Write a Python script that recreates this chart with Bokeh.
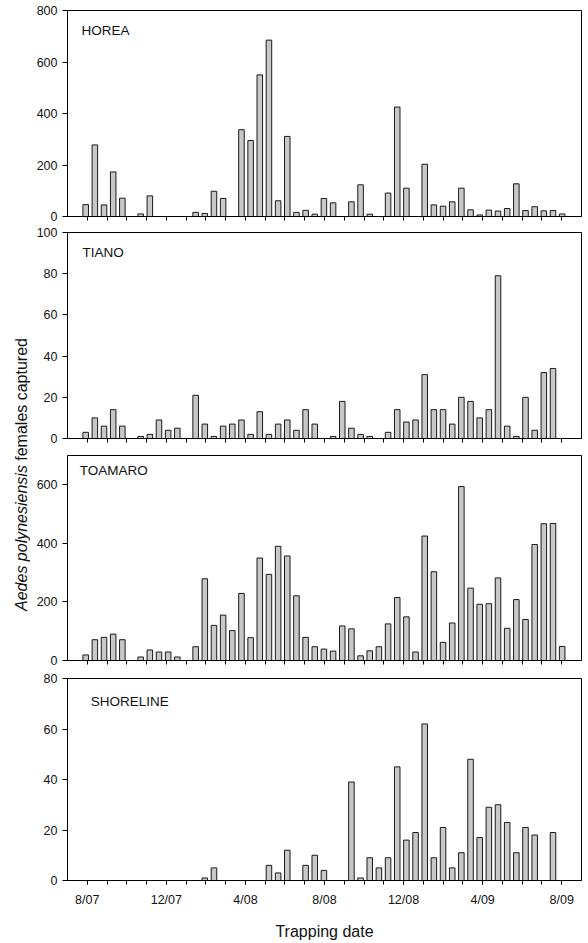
import math
from bokeh.plotting import figure
from bokeh.models import Range1d, FixedTicker, Label, Arrow
from bokeh.layouts import row, column
from bokeh.embed import file_html
from bokeh.resources import INLINE
from bokeh.core.properties import value

FONT = "Liberation Sans"

# ---- data (biweekly trap collections, slot 0 = late July 2007) ----
sample_index = list(range(53))

horea = [46, 278, 45, 173, 71, 0, 10, 80, 0, 0, 0, 0, 16, 12, 98, 70, 0, 337, 295, 550,
         685, 61, 311, 16, 24, 9, 70, 53, 0, 57, 123, 9, 0, 91, 425, 110, 0, 203, 45, 40,
         57, 110, 26, 6, 25, 21, 31, 127, 23, 38, 22, 23, 10]
tiano = [3, 10, 6, 14, 6, 0, 1, 2, 9, 4, 5, 0, 21, 7, 1, 6, 7, 9, 2, 13,
         2, 7, 9, 4, 14, 7, 0, 1, 18, 5, 2, 1, 0, 3, 14, 8, 9, 31, 14, 14,
         7, 20, 18, 10, 14, 79, 6, 1, 20, 4, 32, 34, 0]
toamaro = [19, 71, 79, 90, 71, 0, 12, 36, 29, 29, 12, 0, 47, 279, 120, 155, 102, 229, 78, 350,
           294, 390, 357, 221, 79, 47, 39, 32, 118, 108, 16, 33, 47, 125, 215, 149, 29, 425, 303, 62,
           128, 594, 247, 192, 194, 282, 110, 208, 140, 396, 467, 468, 48]
shoreline = [0, 0, 0, 0, 0, 0, 0, 0, 0, 0, 0, 0, 0, 1, 5, 0, 0, 0, 0, 0,
             6, 3, 12, 0, 6, 10, 4, 0, 0, 39, 1, 9, 5, 9, 45, 16, 19, 62, 9, 21,
             5, 11, 48, 17, 29, 30, 23, 11, 21, 18, 0, 19, 0]

site_names = ["HOREA", "TIANO", "TOAMARO", "SHORELINE"]
y_max = [800, 100, 700, 80]
y_ticks = [[0, 200, 400, 600, 800], [0, 20, 40, 60, 80, 100],
           [0, 200, 400, 600], [0, 20, 40, 60, 80]]

x_tick_months = [1, 5, 9, 13, 17, 21, 25]
x_tick_labels = ["8/07", "12/07", "4/08", "8/08", "12/08", "4/09", "8/09"]
long_tick_months = [0, 4, 8, 12, 16, 20, 24]
minor_tick_months = list(range(1, 26))

first_sample_month = 0.92
sample_step_month = 0.4635

YLAB_W = 30
FIG_W = 552
heights = [223, 223, 223, 273]
border_top = [10, 9, 9, 9]
border_bottom = [7, 8, 9, 59]
name_dx_px = [14, 15, 12.3, 23.3]
name_dy_px = [12.5, 12.5, 7, 15.5]
MONTH_PX = 514 / 26.0


def make_panel(k, counts):
    h = heights[k]
    frame_h = h - border_top[k] - border_bottom[k]
    p = figure(width=FIG_W, height=h, x_range=Range1d(0, 26), y_range=Range1d(0, y_max[k]),
               output_backend="svg", toolbar_location=None,
               min_border_left=37, min_border_right=1,
               min_border_top=border_top[k], min_border_bottom=border_bottom[k])
    p.xgrid.visible = False
    p.ygrid.visible = False
    p.outline_line_color = "black"
    p.outline_line_width = 1
    p.background_fill_color = "white"
    p.border_fill_color = "white"

    xs = [first_sample_month + sample_step_month * i for i, c in zip(sample_index, counts) if c > 0]
    tops = [c for c in counts if c > 0]
    p.vbar(x=xs, top=tops, bottom=0, width=0.28, fill_color="#c8c8c8",
           line_color="#1a1a1a", line_width=1)

    # y axis
    ya = p.yaxis[0]
    ya.ticker = FixedTicker(ticks=y_ticks[k])
    ya.major_tick_out = 5
    ya.major_tick_in = 0
    ya.minor_tick_out = 0
    ya.minor_tick_in = 0
    ya.major_label_standoff = 5
    ya.major_label_text_font = FONT
    ya.major_label_text_font_size = "12.5px"
    ya.major_label_text_color = "#111111"
    ya.axis_line_color = "black"
    ya.major_tick_line_color = "black"

    # x axis: monthly ticks, labels only on the bottom panel
    xa = p.xaxis[0]
    if k == 3:
        xa.ticker = FixedTicker(ticks=x_tick_months, minor_ticks=minor_tick_months)
        xa.major_label_overrides = {m: l for m, l in zip(x_tick_months, x_tick_labels)}
        xa.major_label_standoff = 8
        xa.major_label_text_font = FONT
        xa.major_label_text_font_size = "12.5px"
        xa.major_label_text_color = "#111111"
        xa.axis_label = "Trapping date"
        xa.axis_label_standoff = 13
        xa.axis_label_text_font = FONT
        xa.axis_label_text_font_size = "16px"
        xa.axis_label_text_font_style = "normal"
        xa.axis_label_text_color = "#111111"
    else:
        xa.ticker = FixedTicker(ticks=[], minor_ticks=minor_tick_months)
    xa.major_tick_out = 4
    xa.major_tick_in = 0
    xa.minor_tick_out = 4
    xa.minor_tick_in = 0
    xa.axis_line_color = "black"
    xa.major_tick_line_color = "black"
    xa.minor_tick_line_color = "black"

    # longer ticks every 4 months
    ext = 6 * y_max[k] / frame_h
    for m in long_tick_months:
        p.add_layout(Arrow(start=None, end=None, x_start=m, y_start=0, x_end=m, y_end=-ext,
                           line_color="black", line_width=1))

    lab = Label(x=name_dx_px[k] / MONTH_PX,
                y=y_max[k] * (1 - name_dy_px[k] / frame_h),
                text=site_names[k], text_baseline="top", text_align="left",
                text_font=FONT, text_font_size="13.5px", text_color="#111111")
    p.add_layout(lab)
    return p


panels = [make_panel(k, c) for k, c in enumerate([horea, tiano, toamaro, shoreline])]

# y-axis title in a narrow strip figure (mixed italic / normal)
total_h = sum(heights)
yfig = figure(width=YLAB_W, height=total_h, x_range=Range1d(0, YLAB_W), y_range=Range1d(0, total_h),
              output_backend="svg", toolbar_location=None, min_border=0)
yfig.axis.visible = False
yfig.xgrid.visible = False
yfig.ygrid.visible = False
yfig.outline_line_color = None
yfig.border_fill_color = "white"

part1 = "Aedes polynesiensis"
part2 = "females captured"
fs = 16
w1 = fs * (2.835 + 0.278 + 5.998)
wsp = fs * 0.278
w2 = fs * (3.501 + 0.278 + 3.891)
center = total_h - 474
start = center - (w1 + wsp + w2) / 2
yfig.text(x=[21], y=[start], text=[part1], angle=math.pi / 2, text_align="left",
          text_baseline="alphabetic", text_font=value(FONT), text_font_size=f"{fs}px",
          text_font_style="italic", text_color="#111111")
yfig.text(x=[21], y=[start + w1 + wsp], text=[part2], angle=math.pi / 2, text_align="left",
          text_baseline="alphabetic", text_font=value(FONT), text_font_size=f"{fs}px",
          text_color="#111111")

layout = row(yfig, column(*panels, spacing=0), spacing=0)

open("out.html", "w").write(file_html(layout, INLINE))
